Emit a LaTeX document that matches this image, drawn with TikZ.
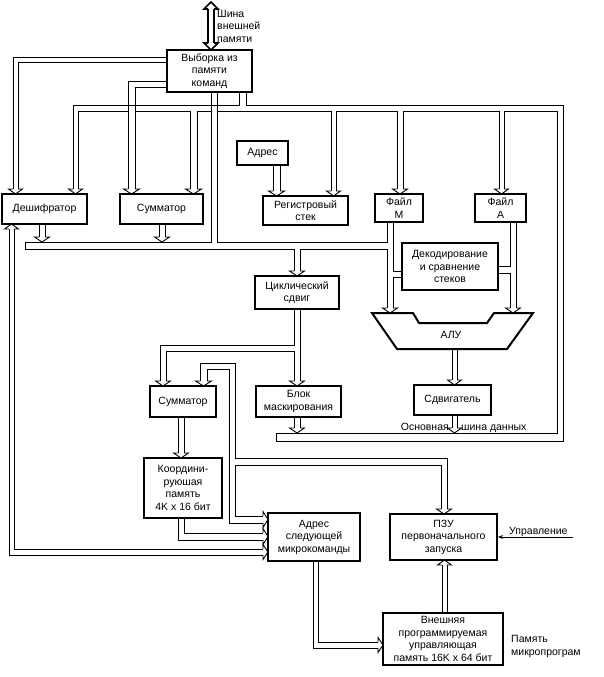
\documentclass[tikz,border=0pt]{standalone}
\usepackage{fontspec}
\setmainfont{Liberation Sans}
\usetikzlibrary{arrows.meta}
\newcommand\myfs{\fontsize{10.5}{12.5}\selectfont}
% hollow bus heads: down (x1,x2,tip y), up (x1,x2,tip y), right (y1,y2,tip x)
\newcommand\arrD[3]{\draw[ln] (#1,{#3-5}) -- ({#1-4.5},{#3-5}) -- ({(#1+#2)/2},#3) -- ({#2+4.5},{#3-5}) -- (#2,{#3-5});}
\newcommand\arrU[3]{\draw[ln] (#1,{#3+5}) -- ({#1-4.5},{#3+5}) -- ({(#1+#2)/2},#3) -- ({#2+4.5},{#3+5}) -- (#2,{#3+5});}
\newcommand\arrR[3]{\draw[ln] ({#3-5},#1) -- ({#3-5},{#1-4.5}) -- (#3,{(#1+#2)/2}) -- ({#3-5},{#2+4.5}) -- ({#3-5},#2);}
\begin{document}
\begin{tikzpicture}[x=1pt,y=-1pt,
  ln/.style={line width=0.9pt, line join=miter},
  thickbus/.style={line width=1.6pt, line join=miter},
  box/.style={draw, fill=white, line width=2pt, inner sep=0pt, align=center, font=\myfs},
  lbl/.style={inner sep=0pt, font=\myfs}]
\useasboundingbox (0,0) rectangle (604,677);

% ---------- boxes ----------
\node[box, minimum width=85pt, minimum height=42pt] (vyb) at (209.5,71) {Выборка из\\памяти\\команд};
\node[box, minimum width=85pt, minimum height=30pt] (dec) at (44.5,209) {Дешифратор};
\node[box, minimum width=83pt, minimum height=30pt] (sum1) at (161.5,209) {Сумматор};
\node[box, minimum width=51pt, minimum height=24pt] (adr) at (262.5,153) {Адрес};
\node[box, minimum width=85pt, minimum height=29pt] (reg) at (305.5,210.5) {Регистровый\\стек};
\node[box, minimum width=48pt, minimum height=28pt] (fm) at (399,208) {Файл\\М};
\node[box, minimum width=51pt, minimum height=28pt] (fa) at (500.5,208) {Файл\\А};
\node[box, minimum width=96pt, minimum height=47pt] (decod) at (450,266.5) {Декодирование\\и сравнение\\стеков};
\node[box, minimum width=84pt, minimum height=33pt] (cyc) at (297,292.5) {Циклический\\сдвиг};
\node[box, minimum width=77pt, minimum height=30pt] (shift) at (452.5,400) {Сдвигатель};
\node[box, minimum width=85pt, minimum height=31pt] (mask) at (298.5,401.5) {Блок\\маскирования};
\node[box, minimum width=66pt, minimum height=31pt] (sum2) at (183,401.5) {Сумматор};
\node[box, minimum width=78pt, minimum height=60pt] (coord) at (183,488) {Координи-\\руюшая\\память\\4K x 16 бит};
\node[box, minimum width=92pt, minimum height=48pt] (nxt) at (314,537) {Адрес\\следующей\\микрокоманды};
\node[box, minimum width=107pt, minimum height=46pt] (rom) at (443.5,537) {ПЗУ\\первоначального\\запуска};
\node[box, minimum width=120pt, minimum height=52pt] (ext) at (443,639) {Внешняя\\программируемая\\управляющая\\память 16K x 64 бит};

% ALU
\draw[line width=2pt, line join=miter] (372,313) -- (413,313) -- (419,323) -- (487,323) -- (494,313) -- (533,313) -- (507,349) -- (397,349) -- cycle;
\node[lbl] (alu) at (451,335) {АЛУ};

% ---------- external memory bus ----------
\draw[thickbus] (208,9) -- (208,43);
\draw[thickbus] (214,9) -- (214,43);
\draw[thickbus] (208,9) -- (204,9) -- (211,2) -- (218,9) -- (214,9);
\draw[thickbus] (208,43) -- (204,43) -- (211,50) -- (218,43) -- (214,43);
\node[lbl, anchor=north west, align=left] (extbus) at (217,10) {Шина\\внешней\\памяти};

% ---------- from Выборка to Дешифратор / Сумматор ----------
\draw[ln] (vyb.west |- 0,57) -- (13,57) -- (13,189);
\draw[ln] (vyb.west |- 0,62) -- (18,62) -- (18,189);
\arrD{13}{18}{194}
\draw[ln] (vyb.west |- 0,81) -- (128,81) -- (128,189);
\draw[ln] (vyb.west |- 0,87) -- (135,87) -- (135,189);
\arrD{128}{135}{194}

% ---------- main loop bus ----------
\draw[ln] (239,92) -- (239,105) -- (73,105) -- (73,189);
\draw[ln] (246,92) -- (246,105) -- (563,105) -- (563,441) -- (276,441) -- (276,433) -- (557,433) -- (557,111) -- (504,111) -- (504,189);
\draw[ln] (78,189) -- (78,111) -- (128,111);
\draw[ln] (135,111) -- (190,111) -- (190,189);
\draw[ln] (197,189) -- (197,111) -- (211,111);
\draw[ln] (217,111) -- (331,111) -- (331,191);
\draw[ln] (336,191) -- (336,111) -- (397,111) -- (397,189);
\draw[ln] (403,189) -- (403,111) -- (499,111) -- (499,189);
\arrD{73}{78}{194}
\arrD{190}{197}{194}
\arrD{331}{336}{196}
\arrD{397}{403}{194}
\arrD{499}{504}{194}
\node[lbl, anchor=base east] (lblmain1) at (449,430.5) {Основная};
\node[lbl, anchor=base west] (lblmain2) at (461,430.5) {шина данных};

% ---------- Выборка -> inner bus -> ALU, Циклический сдвиг ----------
\draw[ln] (211,92) -- (211,242) -- (25,242) -- (25,249) -- (294,249) -- (294,271);
\draw[ln] (217,92) -- (217,242) -- (387,242) -- (387,222);
\draw[ln] (300,271) -- (300,249) -- (387,249) -- (387,308);
\arrD{294}{300}{276}
\draw[ln] (393,222) -- (393,271) -- (402,271);
\draw[ln] (402,277) -- (393,277) -- (393,308);
\arrD{387}{393}{313}
\draw[ln] (510,222) -- (510,266) -- (498,266);
\draw[ln] (498,273) -- (510,273) -- (510,308);
\draw[ln] (516,222) -- (516,308);
\arrD{510}{516}{313}

% Адрес -> Регистровый стек
\draw[ln] (273,165) -- (273,191);
\draw[ln] (280,165) -- (280,191);
\arrD{273}{280}{196}

% Дешифратор, Сумматор outputs
\draw[ln] (39,224) -- (39,237);
\draw[ln] (45,224) -- (45,237);
\arrD{39}{45}{242}
\draw[ln] (159,224) -- (159,237);
\draw[ln] (165,224) -- (165,237);
\arrD{159}{165}{242}

% Циклический сдвиг outputs
\draw[ln] (294,309) -- (294,345) -- (160,345) -- (160,381);
\draw[ln] (166,381) -- (166,351) -- (294,351) -- (294,381);
\draw[ln] (300,309) -- (300,381);
\arrD{160}{166}{386}
\arrD{294}{300}{386}

% bus to Сумматор, ПЗУ, Адрес следующей
\draw[ln] (200,381) -- (200,363) -- (235,363) -- (235,458) -- (447,458) -- (447,509);
\draw[ln] (207,381) -- (207,369) -- (229,369) -- (229,523) -- (263,523);
\draw[ln] (263,516) -- (235,516) -- (235,465) -- (441,465) -- (441,509);
\arrD{200}{207}{386}
\arrD{441}{447}{514}
\arrR{516}{523}{268}

% Сумматор -> Координирующая
\draw[ln] (178,417) -- (178,453);
\draw[ln] (184,417) -- (184,453);
\arrD{178}{184}{458}

% Координирующая -> Адрес следующей
\draw[ln] (184,518) -- (184,533) -- (263,533);
\draw[ln] (178,518) -- (178,540) -- (263,540);
\arrR{533}{540}{268}

% Адрес следующей <-> Дешифратор
\draw[ln] (14,229) -- (14,549) -- (263,549);
\draw[ln] (9,229) -- (9,555) -- (263,555);
\arrU{9}{14}{224}
\arrR{549}{555}{268}

% Адрес следующей -> Внешняя память
\draw[ln] (318,561) -- (318,642) -- (378,642);
\draw[ln] (313,561) -- (313,648) -- (378,648);
\arrR{642}{648}{383}

% Внешняя память -> ПЗУ
\draw[ln] (442,613) -- (442,565);
\draw[ln] (447,613) -- (447,565);
\arrU{442}{447}{560}

% АЛУ -> Сдвигатель -> bus
\draw[ln] (452,349) -- (452,380);
\draw[ln] (457,349) -- (457,380);
\arrD{452}{457}{385}
\draw[ln] (452,415) -- (452,428);
\draw[ln] (457,415) -- (457,428);
\arrD{452}{457}{433}
% Блок маскирования -> bus
\draw[ln] (294,417) -- (294,428);
\draw[ln] (300,417) -- (300,428);
\arrD{294}{300}{433}

% Управление
\coordinate (ctl) at (573,537);
\draw[line width=0.8pt, -{Stealth[length=5pt,width=4pt]}] (ctl) -- (rom.east |- ctl);
\node[lbl, anchor=base west] (ctllbl) at (509,534.5) {Управление};

% Память микропрограм
\node[lbl, anchor=west, align=left] (mplbl) at (511,646.5) {Память\\микропрограм};
\end{tikzpicture}
\end{document}
